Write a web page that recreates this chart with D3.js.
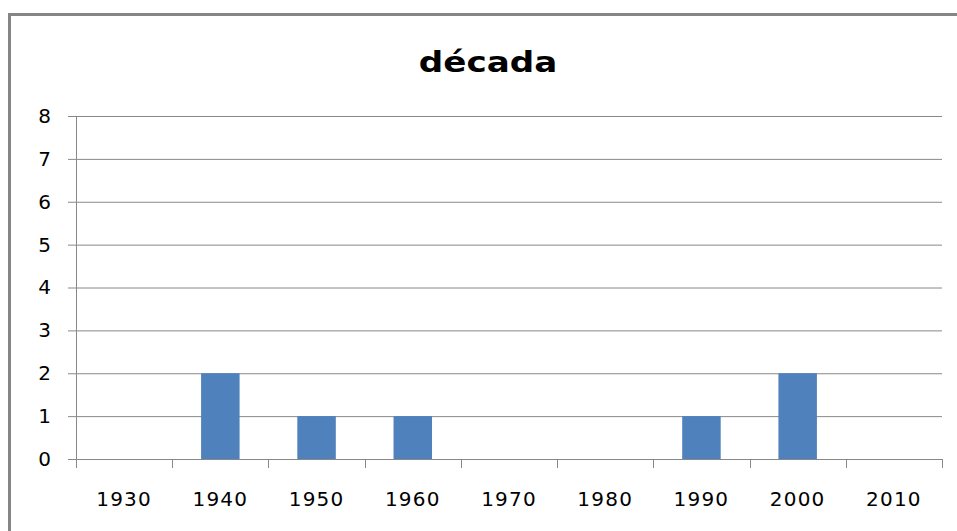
<!DOCTYPE html>
<html>
<head>
<meta charset="utf-8">
<script src="https://cdn.jsdelivr.net/npm/d3@7"></script>
<style>
  body { margin: 0; background: #fff; }
  svg { display: block; }
</style>
</head>
<body>
<div id="chart"></div>
<script>
var decades = ["1930", "1940", "1950", "1960", "1970", "1980", "1990", "2000", "2010"];
var counts = [0, 2, 1, 1, 0, 0, 1, 2, 0];
var yTicks = [0, 1, 2, 3, 4, 5, 6, 7, 8];
var title = "década";

var width = 957, height = 531;
var margin = {top: 116, left: 76, right: 15, bottom: 72};
var plotW = width - margin.left - margin.right;
var plotH = height - margin.top - margin.bottom;

var svg = d3.select("#chart").append("svg")
	.attr("width", width)
	.attr("height", height);

// outer frame (only top and left visible in the picture)
svg.append("rect")
	.attr("x", 9.5).attr("y", 14.5)
	.attr("width", 1000).attr("height", 600)
	.attr("fill", "none")
	.attr("stroke", "#858585")
	.attr("stroke-width", 3);

svg.append("text")
	.attr("transform", "translate(488,72) scale(1.22,1)")
	.attr("text-anchor", "middle")
	.style("font", "bold 28px 'DejaVu Sans'")
	.style("fill", "#000")
	.text(title);

var x = d3.scaleBand().domain(decades).range([0, plotW]).paddingInner(0).paddingOuter(0);
var y = d3.scaleLinear().domain([0, 8]).range([plotH, 0]);

var g = svg.append("g").attr("transform", "translate(" + margin.left + "," + margin.top + ")");

// gridlines + y axis
var yAxis = d3.axisLeft(y).tickValues(yTicks).tickSize(-plotW - 8).tickPadding(17);
var ya = g.append("g").attr("transform", "translate(-8,0)").call(yAxis);
ya.select(".domain").remove();
ya.selectAll(".tick line").attr("x1", 0).attr("x2", plotW + 8).attr("stroke", "#888");
ya.selectAll("text").attr("x", -17).style("font", "20px 'DejaVu Sans'").style("fill", "#000");

// vertical axis line
g.append("line")
	.attr("x1", 0.5).attr("x2", 0.5)
	.attr("y1", 0).attr("y2", plotH)
	.attr("stroke", "#888");

// bars
var barW = x.bandwidth() * 0.4;
g.selectAll("rect.bar")
	.data(counts)
	.enter()
	.append("rect")
	.attr("class", "bar")
	.attr("fill", "#4F81BD")
	.attr("x", function(d, i) { return x(decades[i]) + (x.bandwidth() - barW) / 2; })
	.attr("y", function(d) { return y(d); })
	.attr("width", barW)
	.attr("height", function(d) { return plotH - y(d); });

// x axis ticks at category boundaries
var bounds = decades.map(function(d) { return x(d); }).concat([plotW]);
g.selectAll("line.xt")
	.data(bounds)
	.enter()
	.append("line")
	.attr("class", "xt")
	.attr("x1", function(d) { return Math.round(d) + 0.5; })
	.attr("x2", function(d) { return Math.round(d) + 0.5; })
	.attr("y1", plotH)
	.attr("y2", plotH + 9)
	.attr("stroke", "#888");

g.selectAll("text.xl")
	.data(decades)
	.enter()
	.append("text")
	.attr("class", "xl")
	.attr("x", function(d) { return x(d) + x.bandwidth() / 2; })
	.attr("y", plotH + 47)
	.attr("text-anchor", "middle")
	.style("font", "20px 'DejaVu Sans'")
	.style("letter-spacing", "1.2px")
	.style("fill", "#000")
	.text(function(d) { return d; });
</script>
</body>
</html>
